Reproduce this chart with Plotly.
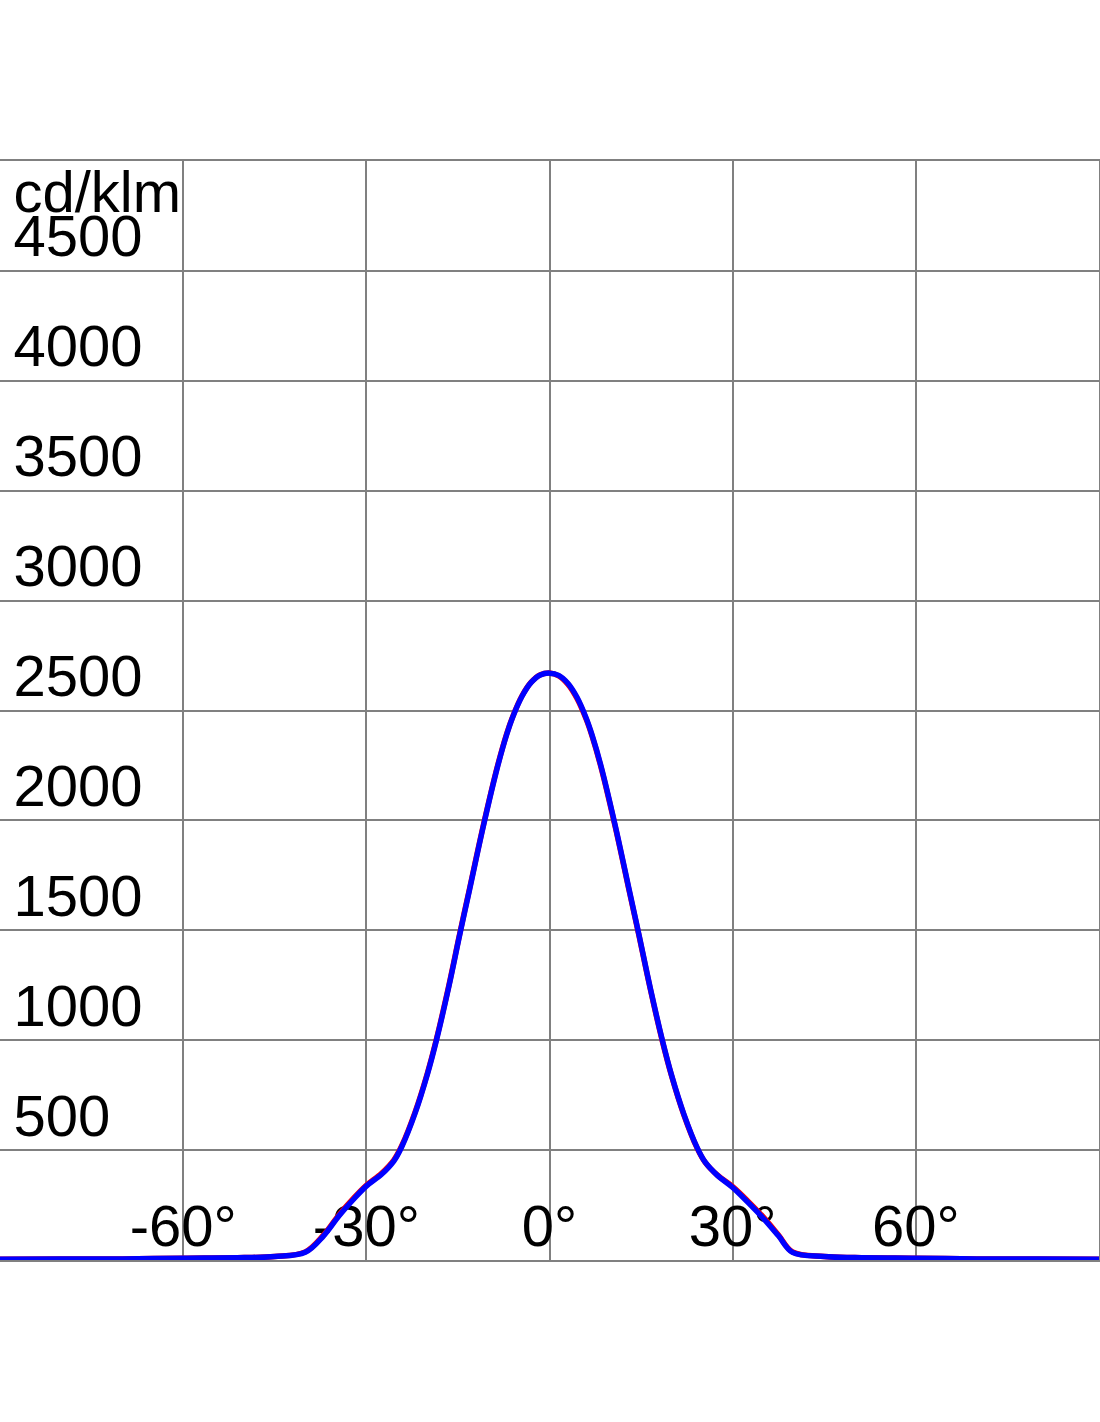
import plotly.graph_objects as go

angles = [-90, -80, -70, -60, -50, -45, -40, -37, -34.5, -32.2, -30, -27.5, -25.5, -24.2, -22, -20,
          -18.5, -16.5, -14.7, -13.1, -10.8, -8.5, -7, -6, -4.5, -3, -1.5, 0,
          1.5, 3, 4.5, 6, 7, 8.5, 10.8, 13.1, 14.7, 16.5, 18.5, 20, 22, 24.2, 25.5, 27.5, 30,
          32.5, 35, 37.5, 39.8, 45, 50, 60, 70, 80, 90]
blue_vals = [3, 4, 5, 8, 11, 16, 35, 110, 200, 273, 336, 390, 450, 515, 669, 845,
             1002, 1242, 1480, 1684, 1978, 2245, 2392, 2472, 2565, 2628, 2662, 2670,
             2660, 2624, 2560, 2466, 2386, 2240, 1972, 1678, 1474, 1238, 998, 840, 664, 510, 445, 385, 330,
             262, 190, 110, 35, 16, 11, 8, 5, 4, 3]
red_vals = [3, 4, 5, 8, 11, 16, 37, 114, 205, 278, 340, 395, 455, 520, 674, 850,
            1007, 1247, 1485, 1689, 1982, 2249, 2395, 2474, 2567, 2629, 2663, 2671,
            2658, 2620, 2555, 2461, 2381, 2235, 1967, 1673, 1470, 1234, 994, 837, 661, 508, 444, 386, 334,
            268, 196, 114, 37, 16, 11, 8, 5, 4, 3]

y_ticks = [500, 1000, 1500, 2000, 2500, 3000, 3500, 4000, 4500]
y_labels = ["500", "1000", "1500", "2000", "2500", "3000", "3500", "4000", "4500"]
x_ticks = [-60, -30, 0, 30, 60]
x_labels = ["-60°", "-30°", "0°", "30°", "60°"]
unit_label = "cd/klm"

FONT = "Liberation Sans, Arial, sans-serif"

fig = go.Figure()

# tick labels as text traces (drawn beneath the curves)
fig.add_trace(go.Scatter(
    x=[-87.8] * len(y_ticks), y=y_ticks, text=y_labels, mode="text",
    textposition="top right", textfont=dict(family=FONT, size=58, color="black"),
    hoverinfo="skip", showlegend=False, cliponaxis=False))
fig.add_trace(go.Scatter(
    x=x_ticks, y=[0] * len(x_ticks), text=x_labels, mode="text",
    textposition="top center", textfont=dict(family=FONT, size=58, color="black"),
    hoverinfo="skip", showlegend=False, cliponaxis=False))
fig.add_trace(go.Scatter(
    x=[-87.8], y=[4700], text=[unit_label], mode="text",
    textposition="top right", textfont=dict(family=FONT, size=58, color="black"),
    hoverinfo="skip", showlegend=False, cliponaxis=False))

fig.add_trace(go.Scatter(x=angles, y=red_vals, mode="lines",
                         line=dict(color="#ff0000", width=5.5, shape="spline", smoothing=1),
                         showlegend=False, cliponaxis=False))
fig.add_trace(go.Scatter(x=angles, y=blue_vals, mode="lines",
                         line=dict(color="#0000ff", width=5.5, shape="spline", smoothing=1),
                         showlegend=False, cliponaxis=False))

fig.update_xaxes(range=[-90, 90], tickvals=x_ticks, showticklabels=False,
                 showgrid=True, gridcolor="#808080", gridwidth=2, zeroline=False,
                 showline=True, linecolor="#808080", linewidth=2, mirror=True)
fig.update_yaxes(range=[0, 5000], tickvals=y_ticks, showticklabels=False,
                 showgrid=True, gridcolor="#808080", gridwidth=2, zeroline=False,
                 showline=True, linecolor="#808080", linewidth=2, mirror=True)

fig.update_layout(width=1101, height=1422, margin=dict(l=0, r=0, t=161, b=162),
                  plot_bgcolor="white", paper_bgcolor="white")

fig.write_html("out.html", config={"displayModeBar": False},
               post_script="document.body.style.margin='0';document.body.style.padding='0';"
                           "document.body.style.overflow='hidden';")
